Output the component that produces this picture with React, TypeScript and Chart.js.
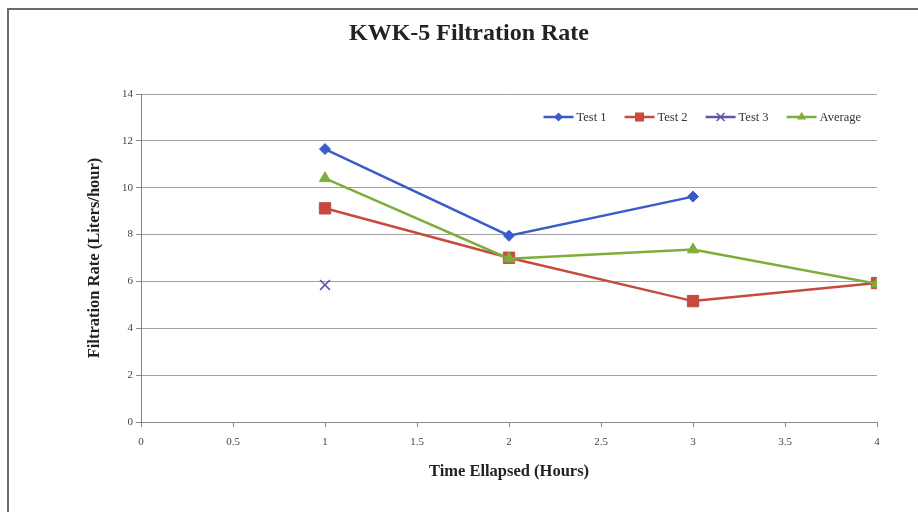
import React, { useEffect, useRef } from 'react';
import { Chart, registerables } from 'chart.js';

Chart.register(...registerables);

// ---- data ----
const hours = [1, 2, 3, 4];
const test1 = [11.65, 7.95, 9.62, null];
const test2 = [9.12, 7.01, 5.16, 5.93];
const test3 = [5.85, null, null, null];
const average = [10.4, 6.97, 7.36, 5.9];
const seriesNames = ['Test 1', 'Test 2', 'Test 3', 'Average'];
const chartTitle = 'KWK-5 Filtration Rate';
const xTitle = 'Time Ellapsed (Hours)';
const yTitle = 'Filtration Rate (Liters/hour)';

const FONT = '"Liberation Serif", "Times New Roman", serif';

const toPoints = (vals: (number | null)[]) => hours.map((h, i) => ({ x: h, y: vals[i] }));

function drawMarker(ctx: CanvasRenderingContext2D, style: string, x: number, y: number, r: number, color: string, lw: number) {
  ctx.save();
  ctx.fillStyle = color;
  ctx.strokeStyle = color;
  ctx.lineWidth = lw;
  ctx.beginPath();
  if (style === 'rectRot') {
    ctx.moveTo(x - r, y);
    ctx.lineTo(x, y - r);
    ctx.lineTo(x + r, y);
    ctx.lineTo(x, y + r);
    ctx.closePath();
    ctx.fill();
  } else if (style === 'rect') {
    const s = Math.SQRT1_2 * r;
    ctx.rect(x - s, y - s, 2 * s, 2 * s);
    ctx.fill();
  } else if (style === 'crossRot') {
    const o = Math.SQRT1_2 * r;
    ctx.moveTo(x - o, y - o);
    ctx.lineTo(x + o, y + o);
    ctx.moveTo(x + o, y - o);
    ctx.lineTo(x - o, y + o);
    ctx.stroke();
  } else if (style === 'triangle') {
    let a = 0;
    ctx.moveTo(x + Math.sin(a) * r, y - Math.cos(a) * r);
    a += (2 * Math.PI) / 3;
    ctx.lineTo(x + Math.sin(a) * r, y - Math.cos(a) * r);
    a += (2 * Math.PI) / 3;
    ctx.lineTo(x + Math.sin(a) * r, y - Math.cos(a) * r);
    ctx.closePath();
    ctx.fill();
  }
  ctx.restore();
}

const legendPlugin = {
  id: 'innerLegend',
  afterDraw(chart: any) {
    const ctx: CanvasRenderingContext2D = chart.ctx;
    const ds = chart.data.datasets;
    ctx.save();
    ctx.font = `12.5px ${FONT}`;
    ctx.textBaseline = 'middle';
    const lineW = 30;
    const gap = 3;
    const itemGap = 18;
    const widths = ds.map((d: any) => lineW + gap + ctx.measureText(d.label).width);
    const total = widths.reduce((a: number, b: number) => a + b, 0) + itemGap * (ds.length - 1);
    let x = 861 - total;
    const y = 117;
    ds.forEach((d: any, i: number) => {
      ctx.strokeStyle = d.borderColor;
      ctx.lineWidth = 2.5;
      ctx.beginPath();
      ctx.moveTo(x, y);
      ctx.lineTo(x + lineW, y);
      ctx.stroke();
      drawMarker(ctx, d.pointStyle, x + lineW / 2, y, d.pointRadius * 0.8, d.borderColor, d.pointBorderWidth || 1);
      ctx.fillStyle = '#333';
      ctx.fillText(d.label, x + lineW + gap, y + 1);
      x += widths[i] + itemGap;
    });
    ctx.restore();
  },
};

export default function App() {
  const ref = useRef<HTMLCanvasElement>(null);

  useEffect(() => {
    if (!ref.current) return;
    const chart = new Chart(ref.current, {
      type: 'line',
      data: {
        datasets: [
          {
            label: seriesNames[0],
            data: toPoints(test1),
            borderColor: '#3B5CC8',
            backgroundColor: '#3B5CC8',
            pointBackgroundColor: '#3B5CC8',
            pointBorderColor: '#3B5CC8',
            pointStyle: 'rectRot',
            pointRadius: 5.5,
            pointBorderWidth: 1,
            borderWidth: 2.5,
            order: 1,
          },
          {
            label: seriesNames[1],
            data: toPoints(test2),
            borderColor: '#C64A3E',
            backgroundColor: '#C64A3E',
            pointBackgroundColor: '#C64A3E',
            pointBorderColor: '#C64A3E',
            pointStyle: 'rect',
            pointRadius: 8,
            pointBorderWidth: 1,
            borderWidth: 2.5,
            order: 2,
          },
          {
            label: seriesNames[2],
            data: toPoints(test3),
            borderColor: '#6352A8',
            backgroundColor: '#6352A8',
            pointBackgroundColor: '#6352A8',
            pointBorderColor: '#6352A8',
            pointStyle: 'crossRot',
            pointRadius: 7,
            pointBorderWidth: 1.5,
            borderWidth: 2.5,
            order: 3,
          },
          {
            label: seriesNames[3],
            data: toPoints(average),
            borderColor: '#7DAE3A',
            backgroundColor: '#7DAE3A',
            pointBackgroundColor: '#7DAE3A',
            pointBorderColor: '#7DAE3A',
            pointStyle: 'triangle',
            pointRadius: 6.5,
            pointBorderWidth: 1,
            borderWidth: 2.5,
            order: 0,
          },
        ],
      },
      options: {
        animation: false,
        responsive: true,
        maintainAspectRatio: false,
        spanGaps: false,
        layout: { padding: { left: 20, right: 0, top: 0, bottom: 0 } },
        plugins: {
          legend: { display: false },
          tooltip: { enabled: false },
          title: {
            display: true,
            text: chartTitle,
            color: '#222',
            font: { family: FONT, size: 24, weight: 'bold' },
            padding: { top: 19.6, bottom: 45.6 },
          },
        },
        scales: {
          x: {
            type: 'linear',
            min: 0,
            max: 4,
            ticks: {
              stepSize: 0.5,
              color: '#444',
              font: { family: FONT, size: 11 },
              padding: 9,
              maxRotation: 0,
              callback: (v: any) => String(v),
            },
            grid: { drawOnChartArea: false, drawTicks: true, tickLength: 5, tickColor: '#888' },
            border: { color: '#8a8a8a', width: 1 },
            title: {
              display: true,
              text: xTitle,
              color: '#222',
              font: { family: FONT, size: 16.5, weight: 'bold' },
              padding: { top: 0, bottom: 30 },
            },
            afterFit: (s: any) => { s.height = 90; },
          },
          y: {
            type: 'linear',
            min: 0,
            max: 14,
            ticks: { stepSize: 2, color: '#444', font: { family: FONT, size: 11 }, padding: 3 },
            grid: { color: '#a0a0a0', lineWidth: 1, tickLength: 5, tickColor: '#888' },
            border: { color: '#808080', width: 1 },
            title: {
              display: true,
              text: yTitle,
              color: '#222',
              font: { family: FONT, size: 16.5, weight: 'bold' },
              padding: { top: 65, bottom: 0 },
            },
            afterFit: (s: any) => { s.width = 121; },
          },
          yRightSpacer: {
            type: 'linear',
            position: 'right',
            display: true,
            min: 0,
            max: 14,
            ticks: { display: false },
            grid: { display: false, drawTicks: false },
            border: { display: false },
            afterFit: (s: any) => { s.width = 41; },
          },
        },
      },
      plugins: [legendPlugin],
    } as any);
    return () => chart.destroy();
  }, []);

  return (
    <>
      <div
        style={{
          position: 'fixed',
          left: 7,
          top: 8,
          width: 940,
          height: 540,
          border: '2px solid #6a6a6a',
          boxSizing: 'border-box',
        }}
      />
      <div style={{ position: 'fixed', left: 0, top: 0, width: 918, height: 512 }}>
        <canvas ref={ref} style={{ width: '100%', height: '100%' }} />
      </div>
    </>
  );
}
